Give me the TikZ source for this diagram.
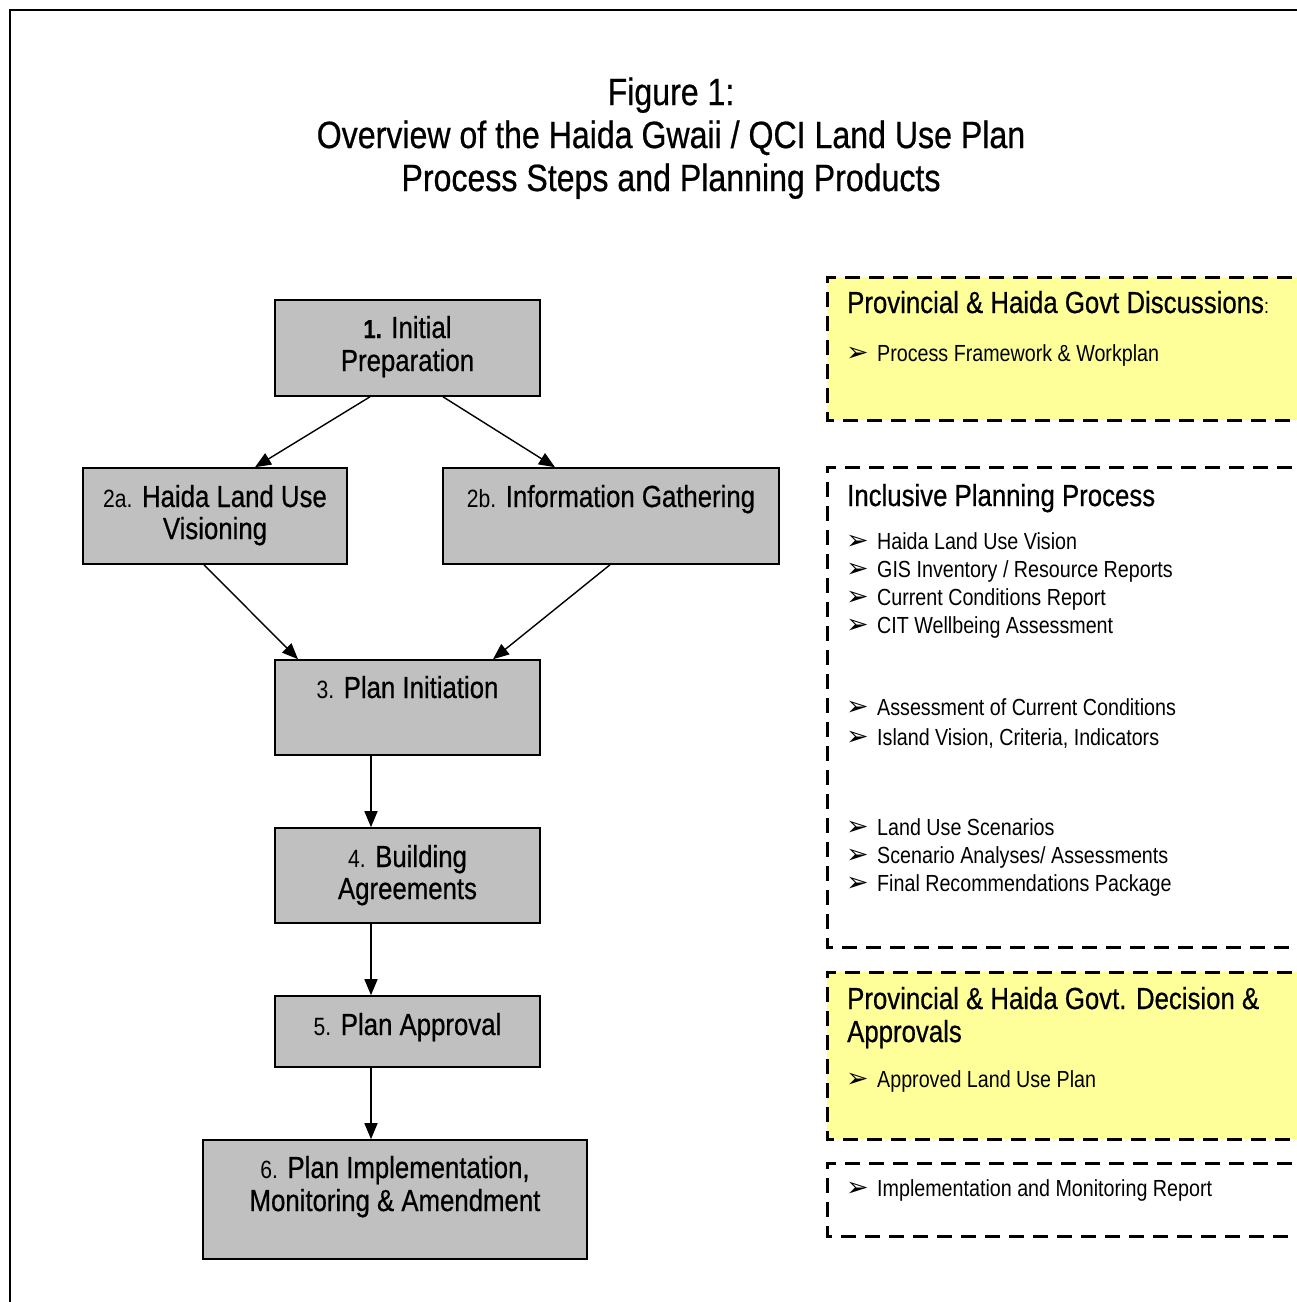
\documentclass[tikz,border=0pt]{standalone}
\usepackage{fontspec}
\setmainfont{Liberation Sans}[FakeStretch=0.845]
\newfontfamily\heavyfont{Liberation Sans}[FakeStretch=0.845, FakeBold=0.6]
\newfontfamily\symfont{DejaVu Sans}
\usetikzlibrary{arrows.meta}

\definecolor{stepgray}{HTML}{C0C0C0}
\definecolor{noteyellow}{HTML}{FFFF99}

% font sizes given in pixels of the final drawing (1 unit = 1pt)
\newcommand\titlesize{\heavyfont\fontsize{38}{43}\selectfont}
\newcommand\boxsize{\heavyfont\fontsize{30.5}{33}\selectfont}
\newcommand\numsize{\normalfont\fontsize{25}{33}\selectfont}
\newcommand\itemsize{\fontsize{23.3}{28}\selectfont}

\tikzset{
  stepbox/.style={draw=black, line width=1.6pt, fill=stepgray, inner sep=0pt},
  boxtext/.style={anchor=base, inner sep=0pt, font=\boxsize},
  arr/.style={line width=1.4pt, -{Triangle[length=16pt,width=13pt]}},
  notebox/.style={line width=3pt, dash pattern=on 15pt off 9pt},
  heading/.style={anchor=base west, inner sep=0pt, font=\boxsize},
  itemtext/.style={anchor=base west, inner sep=0pt, font=\itemsize},
  itemmark/.style={anchor=base west, inner sep=0pt, font=\symfont\fontsize{27}{27}\selectfont},
}

\begin{document}
\begin{tikzpicture}[x=1pt,y=-1pt]
\useasboundingbox (0,0) rectangle (1297,1302);
\clip (0,0) rectangle (1297,1302);
\fill[white] (0,0) rectangle (1297,1302);

% outer frame
\draw[line width=2pt] (10,1330) -- (10,10) -- (1330,10);

% title
\node[anchor=base, inner sep=0pt, font=\titlesize] (t1) at (671,105) {Figure 1:};
\node[anchor=base, inner sep=0pt, font=\titlesize] (t2) at (671,148) {Overview of the Haida Gwaii / QCI Land Use Plan};
\node[anchor=base, inner sep=0pt, font=\titlesize] (t3) at (671,191) {Process Steps and Planning Products};

% process steps
\node[stepbox, minimum width=265pt, minimum height=96pt] (s1)  at (407.5,348) {};
\node[stepbox, minimum width=264pt, minimum height=96pt] (s2a) at (215,516) {};
\node[stepbox, minimum width=336pt, minimum height=96pt] (s2b) at (611,516) {};
\node[stepbox, minimum width=265pt, minimum height=95pt] (s3)  at (407.5,707.5) {};
\node[stepbox, minimum width=265pt, minimum height=95pt] (s4)  at (407.5,875.5) {};
\node[stepbox, minimum width=265pt, minimum height=71pt] (s5)  at (407.5,1031.5) {};
\node[stepbox, minimum width=384pt, minimum height=119pt] (s6) at (395,1199.5) {};

\node[boxtext] (s1l1) at (407.5,338) {{\bfseries\fontsize{26}{33}\selectfont 1.} Initial};
\node[boxtext] (s1l2) at (407.5,371) {Preparation};
\node[boxtext] (s2al1) at (215,507) {{\numsize 2a.} Haida Land Use};
\node[boxtext] (s2al2) at (215,539) {Visioning};
\node[boxtext] (s2bl1) at (611,507) {{\numsize 2b.} Information Gathering};
\node[boxtext] (s3l1) at (407.5,698) {{\numsize 3.} Plan Initiation};
\node[boxtext] (s4l1) at (407.5,867) {{\numsize 4.} Building};
\node[boxtext] (s4l2) at (407.5,899) {Agreements};
\node[boxtext] (s5l1) at (407.5,1035) {{\numsize 5.} Plan Approval};
\node[boxtext] (s6l1) at (395,1178) {{\numsize 6.} Plan Implementation,};
\node[boxtext] (s6l2) at (395,1211) {Monitoring \& Amendment};

% connectors
\draw[arr] ([xshift=-37.5pt]s1.south) -- ([xshift=40pt]s2a.north);
\draw[arr] ([xshift=35.5pt]s1.south) -- ([xshift=-56pt]s2b.north);
\draw[arr] ([xshift=-11pt]s2a.south) -- ([xshift=-109.5pt]s3.north);
\draw[arr] ([xshift=-1pt]s2b.south) -- ([xshift=85.5pt]s3.north);
\draw[arr] ([xshift=-36.5pt]s3.south) -- ([xshift=-36.5pt]s4.north);
\draw[arr] ([xshift=-36.5pt]s4.south) -- ([xshift=-36.5pt]s5.north);
\draw[arr] ([xshift=-36.5pt]s5.south) -- ([xshift=-24pt]s6.north);

% planning products
\draw[notebox, fill=noteyellow] (1340,277) -- (827,277) -- (827,420) -- (1340,420);
\draw[notebox] (1340,467) -- (827,467) -- (827,947) -- (1340,947);
\draw[notebox, fill=noteyellow] (1340,972) -- (827,972) -- (827,1139) -- (1340,1139);
\draw[notebox] (1340,1163) -- (827,1163) -- (827,1236) -- (1340,1236);

\node[heading] (hA) at (847,313) {Provincial \& Haida Govt Discussions{\normalfont\fontsize{21}{21}\selectfont :}};
\node[heading] (hB) at (847,506) {Inclusive Planning Process};
\node[heading] (hC1) at (847,1009) {Provincial \& Haida Govt. Decision \&};
\node[heading] (hC2) at (847,1042) {Approvals};

\foreach \yy/\txt/\nm in {
    361/{Process Framework \& Workplan}/a1,
    549/{Haida Land Use Vision}/b1,
    577/{GIS Inventory / Resource Reports}/b2,
    605/{Current Conditions Report}/b3,
    633/{CIT Wellbeing Assessment}/b4,
    715/{Assessment of Current Conditions}/b5,
    745/{Island Vision, Criteria, Indicators}/b6,
    835/{Land Use Scenarios}/b7,
    863/{Scenario Analyses/ Assessments}/b8,
    891/{Final Recommendations Package}/b9,
    1087/{Approved Land Use Plan}/c1,
    1196/{Implementation and Monitoring Report}/d1}{
  \node[itemmark] (m\nm) at (846,\yy) {➢};
  \node[itemtext] (i\nm) at (877,\yy) {\txt};
}
\end{tikzpicture}
\end{document}
